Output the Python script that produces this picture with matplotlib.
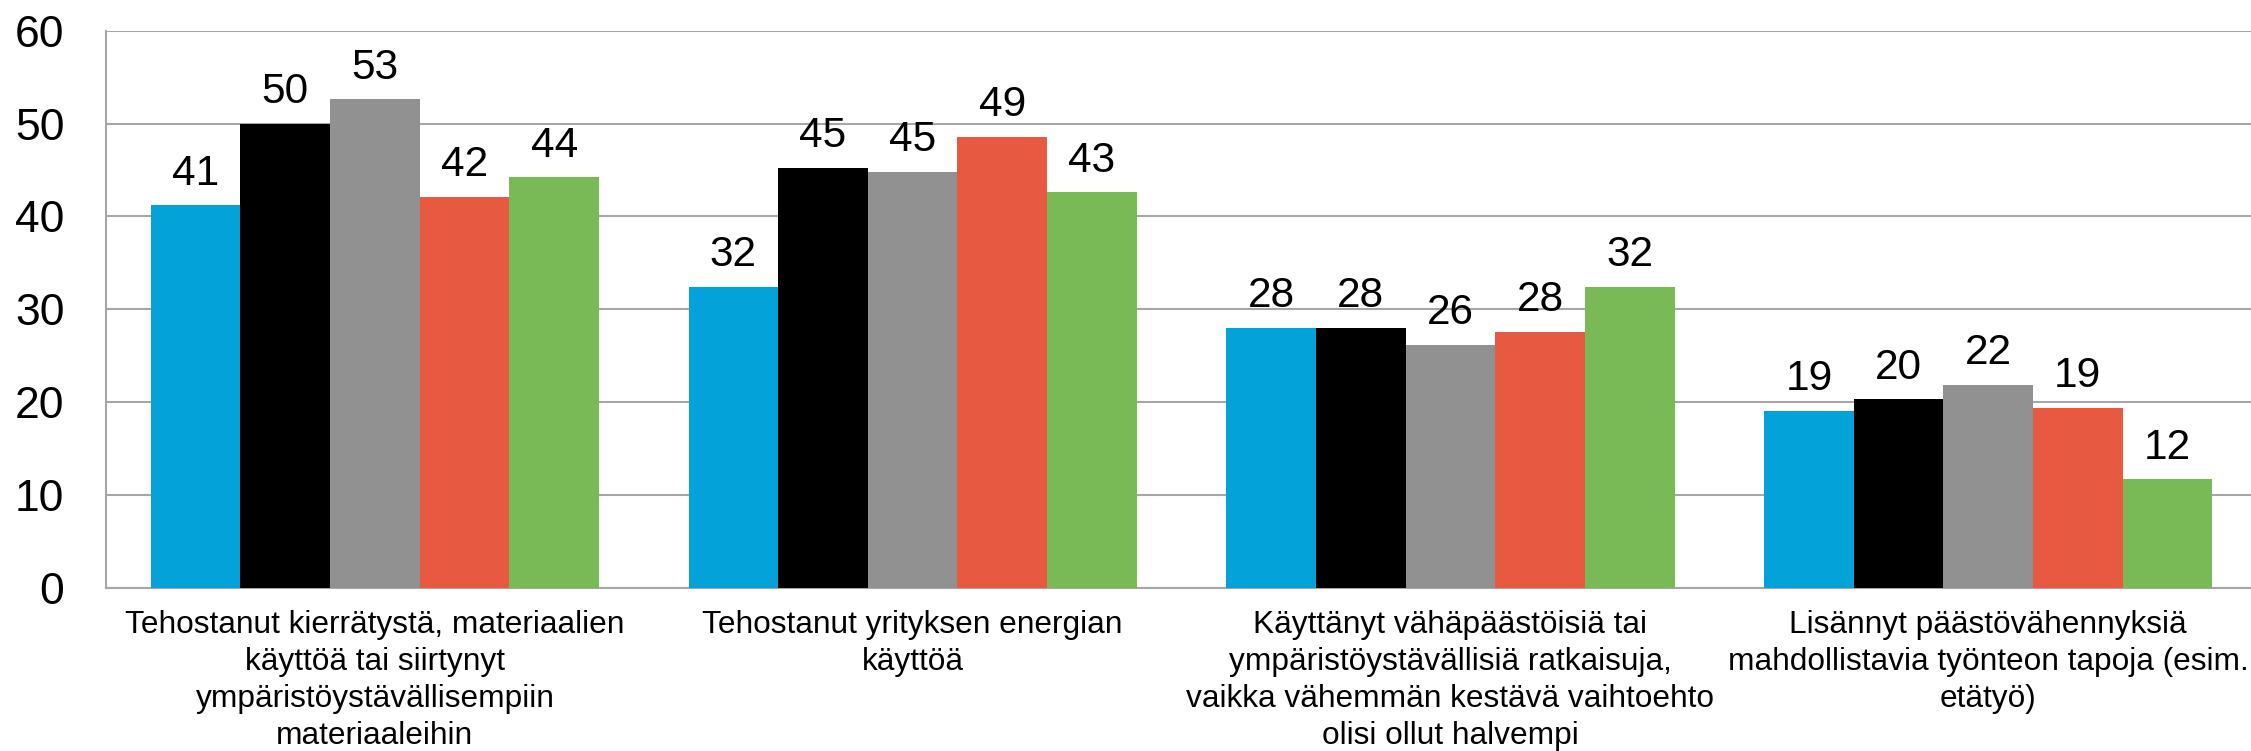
import numpy as np
import matplotlib
matplotlib.use("Agg")
import matplotlib.pyplot as plt

plt.rcParams['font.family'] = ['Liberation Sans', 'DejaVu Sans']

# kategoriat
categories = [
    "Tehostanut kierrätystä, materiaalien\nkäyttöä tai siirtynyt\nympäristöystävällisempiin\nmateriaaleihin",
    "Tehostanut yrityksen energian\nkäyttöä",
    "Käyttänyt vähäpäästöisiä tai\nympäristöystävällisiä ratkaisuja,\nvaikka vähemmän kestävä vaihtoehto\nolisi ollut halvempi",
    "Lisännyt päästövähennyksiä\nmahdollistavia työnteon tapoja (esim.\netätyö)",
]

# sarjat (%)
blue_vals = [41.2, 32.4, 28.0, 19.1]
black_vals = [50.0, 45.2, 28.0, 20.3]
gray_vals = [52.6, 44.8, 26.2, 21.9]
red_vals = [42.1, 48.6, 27.6, 19.4]
green_vals = [44.2, 42.6, 32.4, 11.7]

series = [blue_vals, black_vals, gray_vals, red_vals, green_vals]
colors = ['#03A3D9', '#000000', '#919191', '#E85942', '#7ABA56']

y_ticks = [0, 10, 20, 30, 40, 50, 60]

fig = plt.figure(figsize=(22.51, 7.51), dpi=100)
# akseli jatkuu hieman kuvan oikean reunan yli kuten alkuperäisessä
ax = fig.add_axes([0.0471, 0.217, 0.9556, 0.7421])

x = np.arange(len(categories))
w = 1 / 6
for i, (vals, c) in enumerate(zip(series, colors)):
    bars = ax.bar(x + (i - 2) * w, vals, width=w, color=c, zorder=3)
    for b, v in zip(bars, vals):
        ax.annotate(f"{v:.0f}", (b.get_x() + b.get_width() / 2, b.get_height()),
                    xytext=(0, 15), textcoords='offset points',
                    ha='center', va='baseline', fontsize=30.5)

# akselit
ax.set_xlim(-0.5, len(categories) - 0.5)
ax.set_ylim(0, 60)
ax.set_yticks(y_ticks)
ax.yaxis.grid(True, color='#A6A6A6', linewidth=1.5, zorder=0)
ax.set_axisbelow(True)
ax.set_xticks(x)
ax.set_xticklabels(categories, fontsize=22.8, linespacing=1.3)
ax.tick_params(axis='x', length=0, pad=16)
ax.tick_params(axis='y', length=0, pad=30, labelsize=32)

for s in ['top', 'right']:
    ax.spines[s].set_visible(False)
for s in ['left', 'bottom']:
    ax.spines[s].set_color('#A6A6A6')
    ax.spines[s].set_linewidth(1.5)

plt.savefig("out.png", dpi=100)
